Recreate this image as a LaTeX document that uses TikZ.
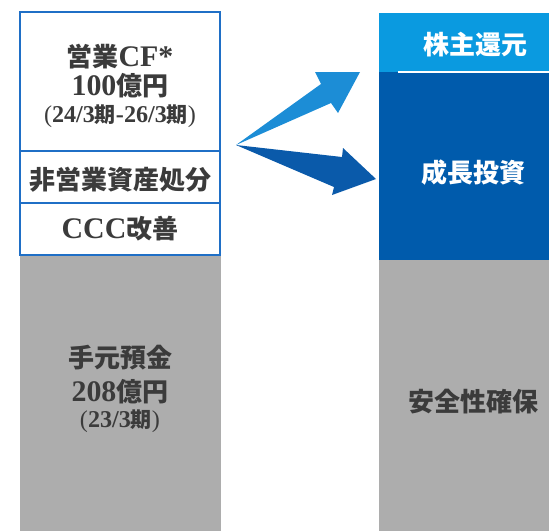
\documentclass[tikz,border=0pt]{standalone}
\usepackage{fontspec}
\setmainfont{Liberation Serif}[Scale=1.15]
\newfontfamily\cjk{Noto Sans CJK JP}
\newcommand{\J}[1]{{\cjk\bfseries #1}}
\definecolor{txtgray}{HTML}{3B3B3B}
\definecolor{boxgray}{HTML}{ADADAD}
\definecolor{lblue}{HTML}{0A9AE0}
\definecolor{dblue}{HTML}{005BAC}
\definecolor{bline}{HTML}{1F6FC6}
\definecolor{arrup}{HTML}{1C8DD6}
\definecolor{arrdn}{HTML}{0A5AAA}
\tikzset{
  big/.style={text=txtgray, inner sep=0pt, font=\fontsize{26}{30}\selectfont\bfseries},
  small/.style={text=txtgray, inner sep=0pt, font=\fontsize{21}{25}\selectfont},
  wbig/.style={big, text=white},
  frame/.style={draw=bline, line width=1.5pt}
}
\begin{document}
\begin{tikzpicture}[x=1pt,y=-1pt]
\useasboundingbox (0,0) rectangle (549,531);
% left column
\fill[boxgray] (20,255) rectangle (221,531);
\draw[frame, fill=white] (20,12) rectangle (220,255);
\draw[frame] (20,151) -- (220,151);
\draw[frame] (20,203) -- (220,203);
% right column
\fill[lblue] (379,13) rectangle (549,72);
\fill[dblue] (379,72) rectangle (549,260);
\fill[boxgray] (379,260) rectangle (549,531);
\draw[white, line width=1.2pt] (398,72) -- (549,72);
% arrows
\fill[arrup] (236,145) -- (321,84) -- (315,72) -- (360,72) -- (338,113) -- (331,103) -- cycle;
\fill[arrdn] (236,145) -- (342,157) -- (343,148) -- (376,179) -- (332,195) -- (334,187) -- cycle;
% texts left
\node[big] (cf) at (120,57) {\J{営業}CF*};
\node[big] (amt1) at (120,86) {100\J{億円}};
\node[small] (per1) at (120,116) {(\textbf{24/3}\J{期}\textbf{-26/3}\J{期})};
\node[big] (hiei) at (120,180) {\J{非営業資産処分}};
\node[big] (ccc) at (120,229) {CCC\J{改善}};
\node[big] (temoto) at (120,358) {\J{手元預金}};
\node[big] (amt2) at (120,392) {208\J{億円}};
\node[small] (per2) at (120,421) {(\textbf{23/3}\J{期})};
% texts right
\node[wbig] (kabu) at (475,45) {\J{株主還元}};
\node[wbig] (seicho) at (473,173) {\J{成長投資}};
\node[big] (anzen) at (473,402) {\J{安全性確保}};
\end{tikzpicture}
\end{document}
